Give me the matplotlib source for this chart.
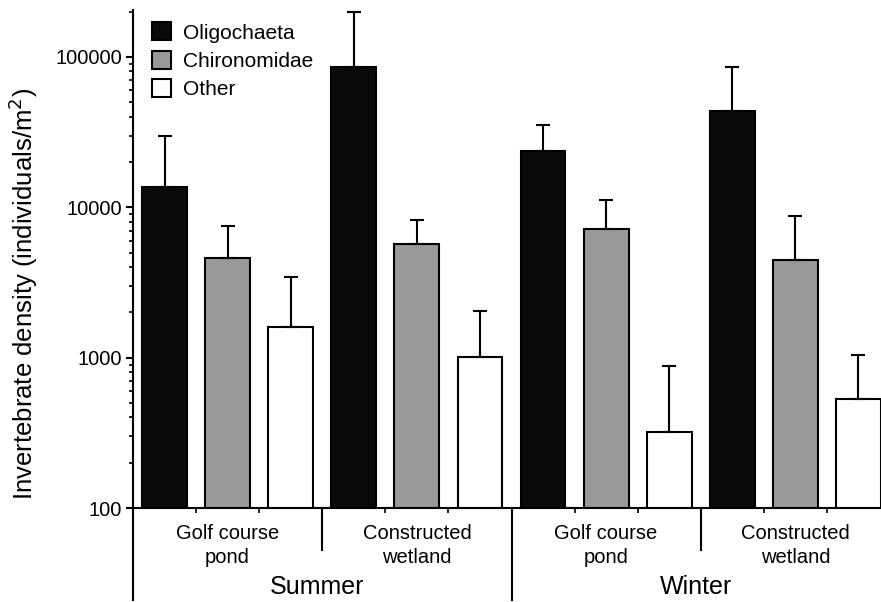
import numpy as np
import matplotlib
matplotlib.use("Agg")
import matplotlib.pyplot as plt
import matplotlib.transforms as mtransforms

plt.rcParams['font.family'] = ['Liberation Sans', 'DejaVu Sans']

# ──────────────────────────────────────────────
# Data: mean density and upper error (individuals/m^2)
# ──────────────────────────────────────────────
taxa = ["Oligochaeta", "Chironomidae", "Other"]
sites = ["Golf course\npond", "Constructed\nwetland"]
seasons = ["Summer", "Winter"]

# order: Summer-Golf, Summer-Wetland, Winter-Golf, Winter-Wetland
oligo_mean = [13700, 85900, 23700, 43800]
oligo_err = [16000, 114000, 11600, 42000]
chiro_mean = [4600, 5700, 7200, 4470]
chiro_err = [2900, 2550, 4000, 4300]
other_mean = [1600, 1010, 321, 531]
other_err = [1840, 1040, 560, 510]

colors = ["#0a0a0a", "#999999", "#ffffff"]

fig = plt.figure(figsize=(8.81, 6.02), dpi=100)
ax = fig.add_axes([133 / 881, 94 / 602, 757 / 881, 498 / 602])

n_groups = len(oligo_mean)
group_x = np.arange(n_groups) * 3
series = [(oligo_mean, oligo_err), (chiro_mean, chiro_err), (other_mean, other_err)]
handles = []
for k, (means, errs) in enumerate(series):
    x = group_x + k + 0.5
    yerr = [np.zeros(n_groups), np.array(errs)]
    b = ax.bar(x, means, width=0.71, color=colors[k], edgecolor="black",
               linewidth=1.5, yerr=yerr, capsize=5.3,
               error_kw=dict(elinewidth=1.5, capthick=1.5, ecolor="black"),
               label=taxa[k], zorder=2)
    handles.append(b)

ax.set_yscale("log")
ax.set_ylim(100, 2.05e5)
ax.set_xlim(0, 12)

ax.set_yticks([100, 1000, 10000, 100000])
ax.set_yticklabels(["100", "1000", "10000", "100000"], fontsize=14.5)
ax.tick_params(axis="y", which="major", length=5, width=1.5, direction="out", pad=3)
ax.tick_params(axis="y", which="minor", length=3, width=1.2, direction="out")
ax.yaxis.set_minor_formatter(matplotlib.ticker.NullFormatter())

# small ticks between bars inside each site group
ax.set_xticks([1, 2, 4, 5, 7, 8, 10, 11])
ax.set_xticklabels([])
ax.tick_params(axis="x", which="major", length=3.5, width=1.2, direction="out")

for side in ["top", "right"]:
    ax.spines[side].set_visible(False)
for side in ["left", "bottom"]:
    ax.spines[side].set_linewidth(1.5)

fig.text(23 / 881, 1 - 294 / 602, "Invertebrate density (individuals/m$^2$)",
         rotation=90, ha="center", va="center", fontsize=18.5)

# separators below the axis: site dividers and season divider
trans = mtransforms.blended_transform_factory(ax.transData, ax.transAxes)
site_drop = 42 / 498
season_drop = 92 / 498
for xs in [3, 9]:
    ax.plot([xs, xs], [0, -site_drop], color="black", lw=1.5, transform=trans, clip_on=False)
for xs in [0, 6]:
    ax.plot([xs, xs], [0, -season_drop], color="black", lw=1.5, transform=trans, clip_on=False)

# site labels and season labels
for g in range(n_groups):
    ax.text(group_x[g] + 1.5, -0.032, sites[g % 2], transform=trans, ha="center", va="top",
            fontsize=14.5, linespacing=1.32)
for s, season in enumerate(seasons):
    ax.text(3 + 6 * s - 0.08, -0.135, season, transform=trans, ha="center", va="top",
            fontsize=18)

ax.legend(handles=handles, loc="upper left", frameon=False, fontsize=15,
          handlelength=0.95, handleheight=0.95, handletextpad=0.55, labelspacing=0.38,
          borderaxespad=0.2, bbox_to_anchor=(0.008, 1.0))

fig.savefig("out.png", dpi=100)
